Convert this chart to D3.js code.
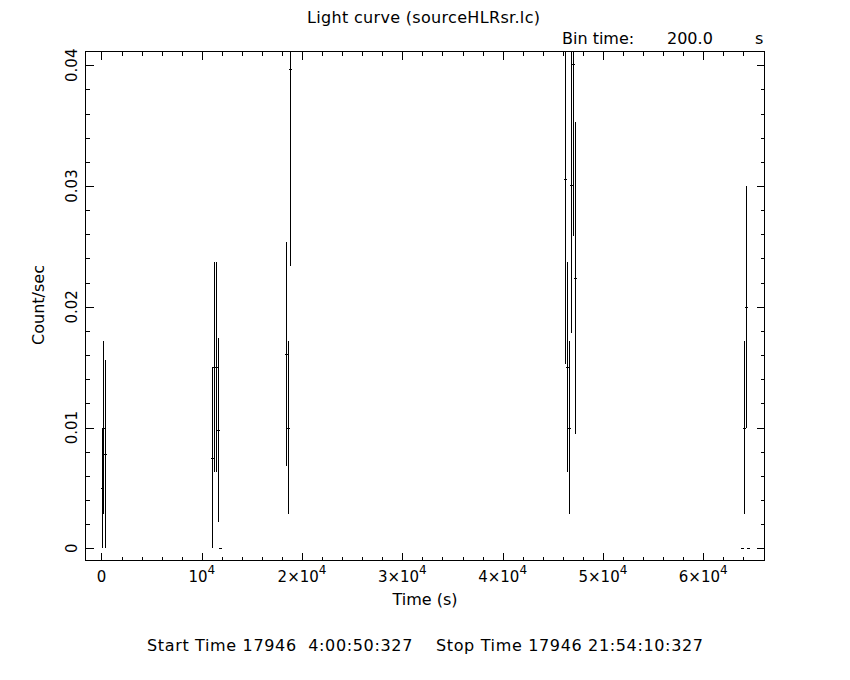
<!DOCTYPE html>
<html>
<head>
    <title>Light curve</title>
    <script type="text/javascript" src="https://cdnjs.cloudflare.com/ajax/libs/d3/7.8.5/d3.min.js"></script>
    <style>
        body { margin: 0; background: #fff; }
        svg { display: block; }
        text { font-family: "DejaVu Sans", sans-serif; font-size: 16px; fill: #000; white-space: pre; }
        text.xlab, text.ylab { font-size: 15px; }
    </style>
</head>
<body>
    <div id="chart"></div>
    <script type="text/javascript">

        // light curve bins (time in s since start)
        var times  = [20, 200, 380,
                      11050, 11250, 11450, 11650, 11850,
                      18420, 18620, 18840,
                      46240, 46440, 46640, 46840, 47040, 47240,
                      63850, 64080, 64280, 64450];
        var rates  = [0.005, 0.010, 0.0078,
                      0.0075, 0.015, 0.015, 0.0098, 0,
                      0.0161, 0.0100, 0.0397,
                      0.0306, 0.015, 0.010, 0.0301, 0.0401, 0.0224,
                      0, 0.010, 0.020, 0];
        var errors = [0.005, 0.0072, 0.0078,
                      0.0075, 0.0087, 0.0087, 0.0076, 0,
                      0.0093, 0.0072, 0.0163,
                      0.0153, 0.0087, 0.0072, 0.0123, 0.0142, 0.0129,
                      0, 0.0072, 0.0100, 0];
        var binTime = 200;

        var xMajor = [0, 10000, 20000, 30000, 40000, 50000, 60000];
        var xMajorLabels = [["0", ""], ["10", "4"], ["2\u00d710", "4"], ["3\u00d710", "4"],
                            ["4\u00d710", "4"], ["5\u00d710", "4"], ["6\u00d710", "4"]];
        var yMajor = [0, 0.01, 0.02, 0.03, 0.04];
        var yMajorLabels = ["0", "0.01", "0.02", "0.03", "0.04"];

        var w = 850, h = 680,
            pLeft = 85.5, pRight = 764.5, pTop = 51.5, pBottom = 560.5;

        var svg = d3.select('#chart').append('svg').attr('width', w).attr('height', h);

        var x = d3.scaleLinear().domain([-1590, 66110]).range([pLeft, pRight]);
        var y = d3.scaleLinear().domain([-0.00101, 0.04114]).range([pBottom, pTop]);

        var data = times.map(function(t, i) { return {t: t, r: rates[i], e: errors[i]}; });

        // clip for bars running past the frame
        svg.append('clipPath').attr('id', 'frame')
            .append('rect').attr('x', pLeft).attr('y', pTop)
            .attr('width', pRight - pLeft).attr('height', pBottom - pTop);

        var xMinor = d3.range(0, 66000, 2000).filter(function(v) { return v % 10000 !== 0; });
        var yMinor = d3.range(0, 21).map(function(i) { return i * 0.002; })
            .filter(function(v, i) { return i % 5 !== 0; });

        function tickAxis(axis, pos, vals, size) {
            var g = svg.append('g').attr('transform', pos)
                .call(axis.tickValues(vals).tickSize(size).tickFormat(''));
            g.select('.domain').remove();
            g.selectAll('line').attr('stroke', '#000').attr('shape-rendering', 'crispEdges');
            return g;
        }
        tickAxis(d3.axisBottom(x), 'translate(0,' + pBottom + ')', xMajor, -8);
        tickAxis(d3.axisBottom(x), 'translate(0,' + pBottom + ')', xMinor, -4);
        tickAxis(d3.axisTop(x), 'translate(0,' + pTop + ')', xMajor, -8);
        tickAxis(d3.axisTop(x), 'translate(0,' + pTop + ')', xMinor, -4);
        tickAxis(d3.axisLeft(y), 'translate(' + pLeft + ',0)', yMajor, -8);
        tickAxis(d3.axisLeft(y), 'translate(' + pLeft + ',0)', yMinor, -4);
        tickAxis(d3.axisRight(y), 'translate(' + pRight + ',0)', yMajor, -8);
        tickAxis(d3.axisRight(y), 'translate(' + pRight + ',0)', yMinor, -4);

        svg.append('rect')
            .attr('x', pLeft).attr('y', pTop)
            .attr('width', pRight - pLeft).attr('height', pBottom - pTop)
            .attr('fill', 'none').attr('stroke', '#000')
            .attr('shape-rendering', 'crispEdges');

        // x tick labels with superscripts
        var xl = svg.selectAll('text.xlab')
            .data(xMajor)
            .enter()
            .append('text')
            .attr('class', 'xlab')
            .attr('x', function(d) { return x(d); })
            .attr('y', 582)
            .attr('text-anchor', 'middle');
        xl.append('tspan').text(function(d, i) { return xMajorLabels[i][0]; });
        xl.append('tspan')
            .attr('dy', -8)
            .attr('font-size', '12px')
            .text(function(d, i) { return xMajorLabels[i][1]; });

        // y tick labels, rotated
        svg.selectAll('text.ylab')
            .data(yMajor)
            .enter()
            .append('text')
            .attr('class', 'ylab')
            .attr('text-anchor', 'middle')
            .attr('transform', function(d) { return 'translate(77,' + y(d) + ') rotate(-90)'; })
            .text(function(d, i) { return yMajorLabels[i]; });

        // error bars
        var bars = svg.append('g').attr('clip-path', 'url(#frame)');
        bars.selectAll('line.err')
            .data(data.filter(function(d) { return d.e > 0; }))
            .enter()
            .append('line')
            .attr('class', 'err')
            .attr('x1', function(d) { return Math.round(x(d.t)) + 0.5; })
            .attr('x2', function(d) { return Math.round(x(d.t)) + 0.5; })
            .attr('y1', function(d) { return y(d.r - d.e); })
            .attr('y2', function(d) { return y(d.r + d.e); })
            .attr('stroke', '#000')
            .attr('shape-rendering', 'crispEdges');
        bars.selectAll('line.bin')
            .data(data)
            .enter()
            .append('line')
            .attr('class', 'bin')
            .attr('x1', function(d) { return x(d.t - binTime / 2); })
            .attr('x2', function(d) { return x(d.t + binTime / 2) + 1; })
            .attr('y1', function(d) { return Math.round(y(d.r)) + 0.5; })
            .attr('y2', function(d) { return Math.round(y(d.r)) + 0.5; })
            .attr('stroke', '#000')
            .attr('shape-rendering', 'crispEdges');

        // titles
        svg.append('text').attr('x', 307).attr('y', 23)
            .attr('textLength', 233).attr('lengthAdjust', 'spacing')
            .text('Light curve (sourceHLRsr.lc)');
        svg.append('text').attr('x', 562).attr('y', 44).text('Bin time:');
        svg.append('text').attr('x', 667).attr('y', 44).text('200.0');
        svg.append('text').attr('x', 755).attr('y', 44).text('s');
        svg.append('text').attr('x', 425).attr('y', 605).attr('text-anchor', 'middle')
            .text('Time (s)');
        svg.append('text').attr('text-anchor', 'middle')
            .attr('transform', 'translate(44,305) rotate(-90)')
            .text('Count/sec');
        svg.append('text').attr('x', 147).attr('y', 651)
            .attr('textLength', 556).attr('lengthAdjust', 'spacing')
            .text('Start Time 17946  4:00:50:327    Stop Time 17946 21:54:10:327');
    </script>
</body>
</html>
